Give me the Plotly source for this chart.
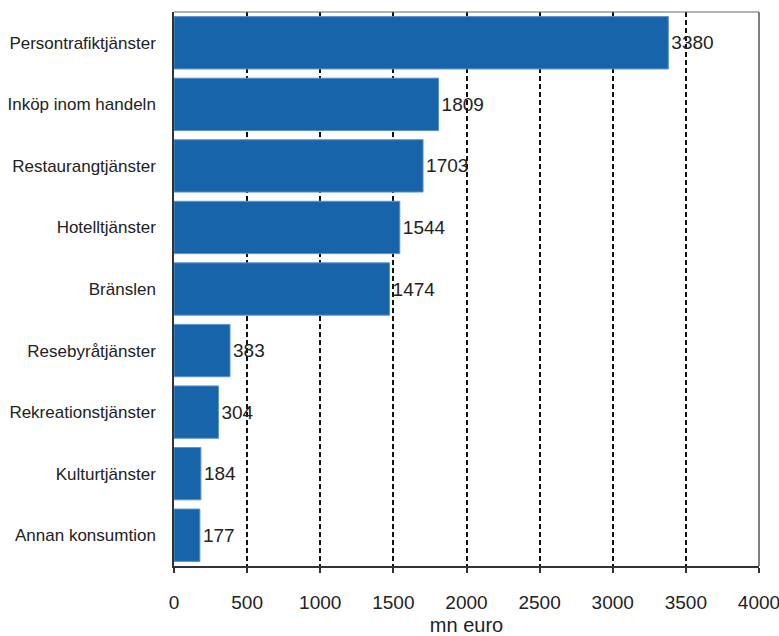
import plotly.graph_objects as go

categories = ["Persontrafiktjänster", "Inköp inom handeln", "Restaurangtjänster",
              "Hotelltjänster", "Bränslen", "Resebyråtjänster",
              "Rekreationstjänster", "Kulturtjänster", "Annan konsumtion"]
values = [3380, 1809, 1703, 1544, 1474, 383, 304, 184, 177]
x_ticks = [0, 500, 1000, 1500, 2000, 2500, 3000, 3500, 4000]

FONT = "Liberation Sans, Arial"

fig = go.Figure()
fig.add_trace(go.Bar(
    y=categories, x=values, orientation="h",
    marker=dict(color="#1764ab", line=dict(color="#5b93cc", width=1)),
    text=[str(v) for v in values], textposition="outside",
    textfont=dict(family=FONT, size=19, color="#222222"),
    cliponaxis=False, width=0.85,
))

fig.update_layout(
    width=779, height=636,
    margin=dict(l=174, r=20, t=12, b=70),
    paper_bgcolor="white", plot_bgcolor="white",
    showlegend=False,
    font=dict(family=FONT, size=16, color="#222222"),
    xaxis=dict(
        range=[0, 4000], tickvals=x_ticks, ticktext=[str(t) for t in x_ticks],
        showgrid=True, gridcolor="#111111", griddash="5px,3px", gridwidth=1.5,
        ticks="outside", ticklen=5, tickcolor="#333333", tickwidth=1.5,
        showline=True, linecolor="#333333", linewidth=1.5, mirror=False,
        zeroline=False, automargin=False, ticklabeloverflow="allow",
        tickfont=dict(size=19), ticklabelstandoff=13,
        title=dict(text="mn euro", font=dict(size=20), standoff=8),
    ),
    yaxis=dict(
        autorange="reversed", automargin=False,
        showline=True, linecolor="#333333", linewidth=1.5, layer="below traces",
        ticks="", showgrid=False,
        tickfont=dict(size=17), ticklabelstandoff=13,
    ),
)
fig.update_layout(shapes=[
    dict(type="line", xref="paper", yref="paper", x0=0, x1=1, y0=1, y1=1,
         line=dict(color="#666666", width=1)),
    dict(type="line", xref="paper", yref="paper", x0=1, x1=1, y0=0, y1=1,
         line=dict(color="#555555", width=1.5)),
])

fig.write_html("out.html", config={"displayModeBar": False},
               post_script="document.body.style.margin='0';document.body.style.overflow='hidden';")
